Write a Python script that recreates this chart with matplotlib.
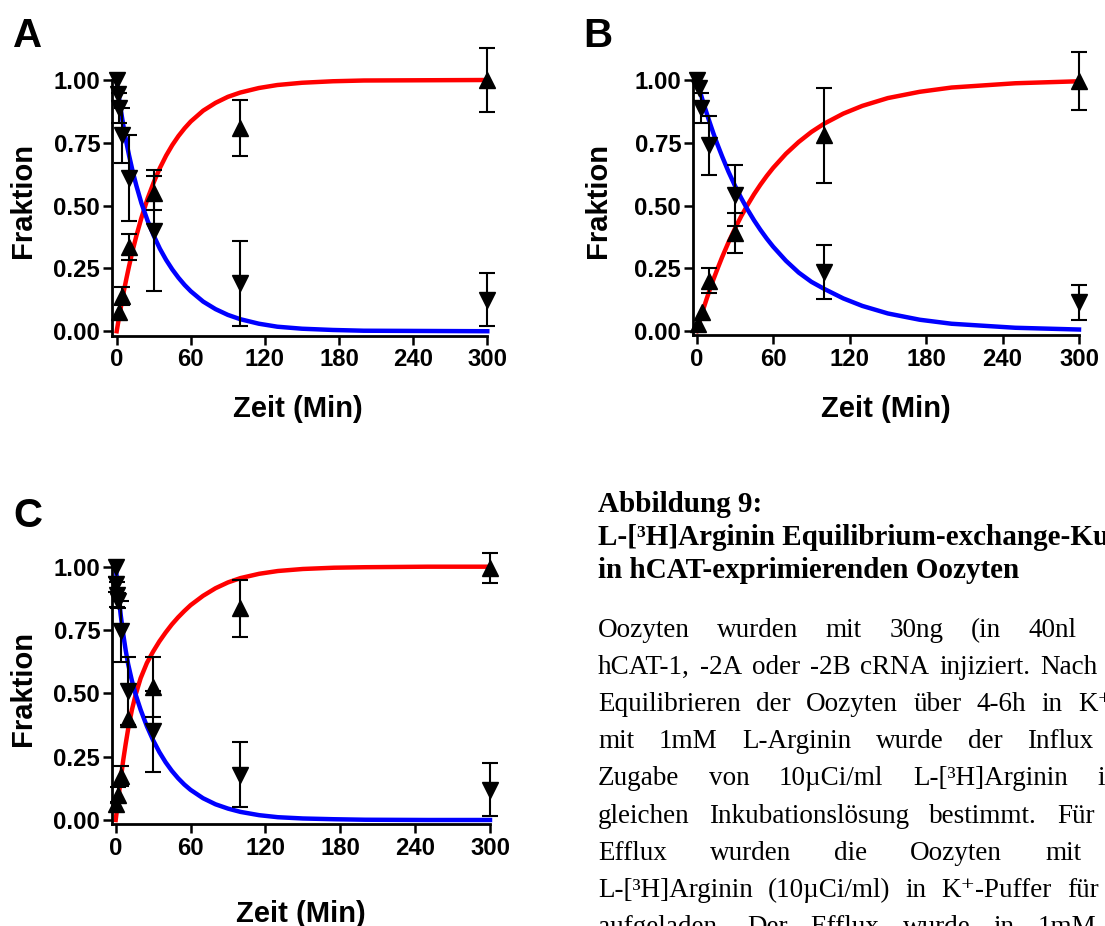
import matplotlib
matplotlib.use("Agg")
import matplotlib.pyplot as plt
from matplotlib.ticker import FormatStrFormatter

plt.rcParams['font.family'] = ['Liberation Sans', 'DejaVu Sans']
plt.rcParams['font.weight'] = 'bold'

# ---- data ----
# fitted curves, read off at these times (min)
curve_t = [0, 2, 4, 6, 8, 10, 13, 16, 20, 25, 30, 35, 40, 45, 50, 55, 60,
           70, 80, 90, 100, 115, 130, 150, 175, 200, 250, 300]
a_efflux_fit = [1.0, 0.925, 0.86, 0.80, 0.748, 0.70, 0.635, 0.578, 0.51, 0.44, 0.38, 0.328, 0.284, 0.246,
                0.213, 0.184, 0.159, 0.118, 0.088, 0.065, 0.048, 0.03, 0.018, 0.01, 0.005, 0.002, 0.001, 0.0]
a_influx_fit = [0.0, 0.058, 0.113, 0.165, 0.213, 0.259, 0.323, 0.381, 0.451, 0.528, 0.593, 0.65, 0.699, 0.741,
                0.777, 0.808, 0.835, 0.878, 0.909, 0.933, 0.95, 0.968, 0.98, 0.989, 0.995, 0.998, 0.999, 1.0]
b_efflux_fit = [1.0, 0.964, 0.93, 0.897, 0.865, 0.834, 0.789, 0.747, 0.695, 0.634, 0.579, 0.529, 0.483, 0.441,
                0.403, 0.368, 0.336, 0.28, 0.233, 0.196, 0.168, 0.13, 0.10, 0.07, 0.045, 0.029, 0.013, 0.006]
b_influx_fit = [0.0, 0.034, 0.068, 0.10, 0.131, 0.161, 0.204, 0.244, 0.295, 0.354, 0.408, 0.458, 0.503, 0.545,
                0.583, 0.618, 0.65, 0.706, 0.753, 0.793, 0.826, 0.866, 0.897, 0.928, 0.953, 0.97, 0.987, 0.995]
c_efflux_fit = [1.0, 0.90, 0.81, 0.735, 0.67, 0.615, 0.55, 0.495, 0.435, 0.37, 0.315, 0.268, 0.228, 0.194,
                0.165, 0.14, 0.119, 0.086, 0.062, 0.045, 0.032, 0.019, 0.011, 0.006, 0.003, 0.001, 0.0, 0.0]
c_influx_fit = [0.0, 0.08, 0.16, 0.235, 0.30, 0.36, 0.435, 0.495, 0.56, 0.62, 0.665, 0.705, 0.74, 0.772,
                0.80, 0.825, 0.848, 0.885, 0.915, 0.938, 0.955, 0.972, 0.983, 0.991, 0.996, 0.998, 1.0, 1.0]

# measured points (mean, SEM); ^ = influx, v = efflux
a_in_t = [1.5, 4, 10, 30, 100, 300]
a_in_m = [0.075, 0.14, 0.335, 0.55, 0.81, 1.0]
a_in_e = [0.0, 0.035, 0.052, 0.067, 0.112, 0.127]
a_out_t = [0, 1, 2, 4, 10, 30, 100, 300]
a_out_m = [1.0, 0.945, 0.89, 0.78, 0.61, 0.40, 0.19, 0.125]
a_out_e = [0.0, 0.0, 0.06, 0.11, 0.17, 0.24, 0.168, 0.105]

b_in_t = [1, 4, 10, 30, 100, 300]
b_in_m = [0.03, 0.076, 0.20, 0.39, 0.78, 0.995]
b_in_e = [0.0, 0.0, 0.05, 0.08, 0.19, 0.115]
b_out_t = [0, 1.5, 3.5, 10, 30, 100, 300]
b_out_m = [1.0, 0.97, 0.89, 0.74, 0.54, 0.235, 0.115]
b_out_e = [0.0, 0.0, 0.06, 0.118, 0.123, 0.106, 0.07]

c_in_t = [0.5, 1.5, 4, 10, 30, 100, 300]
c_in_m = [0.065, 0.10, 0.175, 0.40, 0.525, 0.835, 0.995]
c_in_e = [0.0, 0.03, 0.04, 0.0, 0.12, 0.112, 0.06]
c_out_t = [0, 0.5, 1, 2, 4, 10, 30, 100, 300]
c_out_m = [1.0, 0.93, 0.89, 0.865, 0.745, 0.51, 0.35, 0.178, 0.12]
c_out_e = [0.0, 0.03, 0.05, 0.03, 0.12, 0.135, 0.16, 0.128, 0.105]

x_ticks = [0, 60, 120, 180, 240, 300]
y_ticks = [0.0, 0.25, 0.5, 0.75, 1.0]

W, H = 1105, 926
fig = plt.figure(figsize=(W / 100, H / 100), dpi=100)


def fx(x):
    return x / W


def fy(y):
    return 1 - y / H


def draw_points(ax, t, m, e, marker):
    ax.plot(t, m, marker, ms=11, color='black', clip_on=False, zorder=4)
    te = [ti for ti, ei in zip(t, e) if ei > 0]
    me = [mi for mi, ei in zip(m, e) if ei > 0]
    ee = [ei for ei in e if ei > 0]
    cont = ax.errorbar(te, me, yerr=ee, fmt='none', ecolor='black',
                       elinewidth=1.5, capsize=5.5, capthick=1.5, zorder=3)
    for art in cont.get_children():
        art.set_clip_on(False)


# panel layout in pixels: left, top(y=1), right(x=300), bottom(axis line), xmin
panels = [
    ("A", (112.3, 80, 487.3, 335.5, -3.56), a_efflux_fit, a_influx_fit,
     (a_in_t, a_in_m, a_in_e), (a_out_t, a_out_m, a_out_e),
     (13, 47), (23, 201), (298, 416.7)),
    ("B", (693.3, 80, 1079, 335.3, -2.67), b_efflux_fit, b_influx_fit,
     (b_in_t, b_in_m, b_in_e), (b_out_t, b_out_m, b_out_e),
     (583, 47), (598, 200), (886, 416.7)),
    ("C", (112.3, 566.7, 490, 824.3, -2.72), c_efflux_fit, c_influx_fit,
     (c_in_t, c_in_m, c_in_e), (c_out_t, c_out_m, c_out_e),
     (13, 527), (23, 689), (301, 921.7)),
]

for letter, box, eff, inf, pin, pout, lpos, ypos, xpos in panels:
    left, top, right, bottom, xmin = box
    ax = fig.add_axes([fx(left), fy(bottom), (right - left) / W, (bottom - top) / H])
    ax.set_xlim(xmin, 300)
    ax.set_ylim(-0.017, 1.0)
    ax.plot(curve_t, inf, color='#ff0000', lw=3.2, zorder=2, clip_on=False,
            solid_joinstyle='round')
    ax.plot(curve_t, eff, color='#0000ff', lw=3.2, zorder=2, clip_on=False,
            solid_joinstyle='round')
    draw_points(ax, *pin, '^')
    draw_points(ax, *pout, 'v')
    ax.set_xticks(x_ticks)
    ax.set_yticks(y_ticks)
    ax.yaxis.set_major_formatter(FormatStrFormatter('%.2f'))
    for s in ['top', 'right']:
        ax.spines[s].set_visible(False)
    for s in ['left', 'bottom']:
        ax.spines[s].set_linewidth(2.0)
    ax.tick_params(axis='both', direction='out', length=6.5, width=1.8,
                   labelsize=17.2)
    ax.tick_params(axis='y', pad=2.2)
    ax.tick_params(axis='x', pad=2.6)
    for lab in ax.get_xticklabels() + ax.get_yticklabels():
        lab.set_fontweight('bold')
    fig.text(fx(lpos[0]), fy(lpos[1]), letter, fontsize=29, fontweight='bold',
             ha='left', va='baseline')
    fig.text(fx(ypos[0]), fy(ypos[1]), "Fraktion", fontsize=21, fontweight='bold',
             rotation=90, ha='center', va='center')
    fig.text(fx(xpos[0]), fy(xpos[1]), "Zeit (Min)", fontsize=21, fontweight='bold',
             ha='center', va='baseline')

# ---- caption text (runs off the right edge like the original page crop) ----
serif = ['Liberation Serif', 'DejaVu Serif']
header = [("Abbildung 9:", 512),
          ("L-[³H]Arginin Equilibrium-exchange-Kurven", 545),
          ("in hCAT-exprimierenden Oozyten", 578)]
for txt, y in header:
    fig.text(fx(598), fy(y), txt, fontsize=21, fontweight='bold', family=serif,
             ha='left', va='baseline')

# justified paragraph: baseline, words, x where the last visible word starts
body = [
    (637, "Oozyten wurden mit 30ng (in 40nl", 1028),
    (674, "hCAT-1, -2A oder -2B cRNA injiziert. Nach", 1040),
    (711, "Equilibrieren der Oozyten über 4-6h in K⁺-Puffer", 1078),
    (748, "mit 1mM L-Arginin wurde der Influx", 1027),
    (785, "Zugabe von 10µCi/ml L-[³H]Arginin in", 1097),
    (823, "gleichen Inkubationslösung bestimmt. Für", 1057),
    (860, "Efflux wurden die Oozyten mit", 1045),
    (897, "L-[³H]Arginin (10µCi/ml) in K⁺-Puffer für", 1067),
    (934, "aufgeladen. Der Efflux wurde in 1mM", 1038),
]
renderer = fig.canvas.get_renderer()
x0 = 598
for y, line, x_last in body:
    words = line.split(" ")
    texts = [fig.text(fx(x0), fy(y), w, fontsize=19.5, fontweight='normal',
                      family=serif, ha='left', va='baseline') for w in words]
    widths = [t.get_window_extent(renderer).width for t in texts]
    gap = (x_last - x0 - sum(widths[:-1])) / (len(words) - 1)
    x = x0
    for t, wd in zip(texts, widths):
        t.set_x(fx(x))
        x += wd + gap

fig.savefig("out.png", dpi=100)
